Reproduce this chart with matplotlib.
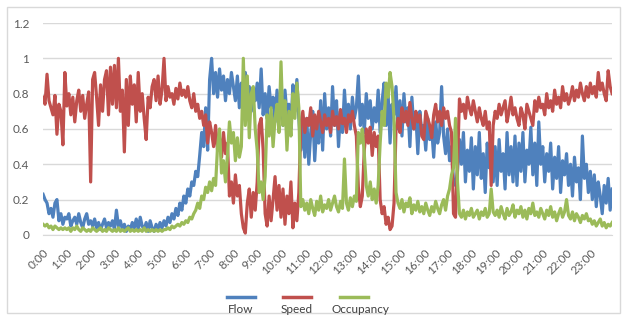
import matplotlib
matplotlib.use("Agg")
import matplotlib.pyplot as plt
from matplotlib.lines import Line2D
from matplotlib.patches import Rectangle

plt.rcParams['font.family'] = ['Lato', 'DejaVu Sans']

# 5-minute samples over one day (12 per hour), normalised to [0, 1]
hours = [f"{h}:00" for h in range(24)]

flow = [
    0.23, 0.20, 0.18, 0.12, 0.15, 0.10, 0.18, 0.20, 0.08, 0.12, 0.06, 0.10,
    0.09, 0.12, 0.05, 0.08, 0.10, 0.06, 0.12, 0.07, 0.04, 0.09, 0.12, 0.06,
    0.08, 0.05, 0.09, 0.04, 0.07, 0.03, 0.06, 0.09, 0.04, 0.07, 0.05, 0.08,
    0.03, 0.14, 0.05, 0.08, 0.03, 0.06, 0.02, 0.05, 0.03, 0.07, 0.04, 0.09,
    0.03, 0.10, 0.05, 0.03, 0.07, 0.02, 0.08, 0.04, 0.02, 0.06, 0.03, 0.07,
    0.04, 0.08, 0.05, 0.10, 0.07, 0.12, 0.09, 0.15, 0.11, 0.18, 0.14, 0.22,
    0.18, 0.26, 0.22, 0.30, 0.28, 0.36, 0.33, 0.45, 0.58, 0.50, 0.72, 0.48,
    0.88, 1.00, 0.80, 0.92, 0.78, 0.94, 0.82, 0.90, 0.76, 0.88, 0.80, 0.92,
    0.84, 0.76, 0.90, 0.72, 0.86, 0.78, 0.92, 0.74, 0.84, 0.70, 0.82, 0.76,
    0.86, 0.72, 0.94, 0.68, 0.80, 0.66, 0.84, 0.72, 0.78, 0.64, 0.82, 0.70,
    0.76, 0.62, 0.82, 0.68, 0.74, 0.60, 0.85, 0.70, 0.88, 0.66, 0.48, 0.62,
    0.44, 0.66, 0.40, 0.58, 0.70, 0.42, 0.62, 0.52, 0.76, 0.48, 0.80, 0.60,
    0.72, 0.56, 0.84, 0.62, 0.76, 0.50, 0.70, 0.58, 0.82, 0.64, 0.74, 0.60,
    0.78, 0.66, 0.72, 0.90, 0.62, 0.74, 0.58, 0.80, 0.66, 0.76, 0.60, 0.72,
    0.64, 0.82, 0.58, 0.76, 0.86, 0.62, 0.80, 0.52, 0.74, 0.68, 0.84, 0.60,
    0.76, 0.56, 0.80, 0.64, 0.72, 0.50, 0.78, 0.60, 0.68, 0.46, 0.70, 0.58,
    0.62, 0.48, 0.66, 0.54, 0.60, 0.44, 0.64, 0.52, 0.58, 0.84, 0.56, 0.46,
    0.60, 0.42, 0.50, 0.30, 0.28, 0.36, 0.54, 0.40, 0.58, 0.30, 0.48, 0.36,
    0.55, 0.26, 0.50, 0.34, 0.58, 0.32, 0.46, 0.24, 0.52, 0.38, 0.56, 0.30,
    0.50, 0.28, 0.54, 0.36, 0.46, 0.26, 0.58, 0.34, 0.50, 0.30, 0.56, 0.28,
    0.52, 0.36, 0.58, 0.30, 0.48, 0.40, 0.61, 0.34, 0.52, 0.28, 0.64, 0.40,
    0.50, 0.30, 0.46, 0.36, 0.52, 0.26, 0.44, 0.32, 0.50, 0.24, 0.42, 0.34,
    0.46, 0.28, 0.40, 0.22, 0.44, 0.30, 0.38, 0.20, 0.56, 0.32, 0.40, 0.24,
    0.36, 0.20, 0.34, 0.16, 0.30, 0.22, 0.12, 0.28, 0.18, 0.32, 0.14, 0.26,
]

speed = [
    0.78, 0.74, 0.91, 0.76, 0.72, 0.68, 0.79, 0.57, 0.74, 0.70, 0.51, 0.92,
    0.73, 0.80, 0.68, 0.78, 0.64, 0.76, 0.82, 0.70, 0.79, 0.66, 0.74, 0.81,
    0.30, 0.88, 0.92, 0.78, 0.62, 0.85, 0.70, 0.88, 0.93, 0.68, 0.95, 0.74,
    0.96, 0.72, 1.00, 0.70, 0.82, 0.47, 0.88, 0.62, 0.90, 0.74, 0.85, 0.64,
    0.92, 0.70, 0.80, 0.66, 0.54, 0.78, 0.72, 0.84, 0.88, 0.76, 0.90, 0.74,
    0.82, 1.00, 0.76, 0.84, 0.78, 0.80, 0.74, 0.83, 0.77, 0.86, 0.79, 0.82,
    0.78, 0.84, 0.76, 0.72, 0.80, 0.70, 0.74, 0.66, 0.70, 0.62, 0.68, 0.52,
    0.64, 0.58, 0.50, 0.62, 0.48, 0.55, 0.44, 0.58, 0.46, 0.52, 0.22, 0.30,
    0.18, 0.34, 0.22, 0.28, 0.12, 0.04, 0.01, 0.18, 0.26, 0.10, 0.24, 0.14,
    0.30, 0.62, 0.66, 0.48, 0.12, 0.05, 0.22, 0.08, 0.20, 0.33, 0.14, 0.28,
    0.10, 0.26, 0.06, 0.22, 0.12, 0.30, 0.04, 0.18, 0.08, 0.24, 0.62, 0.70,
    0.58, 0.66, 0.62, 0.72, 0.56, 0.68, 0.60, 0.70, 0.64, 0.58, 0.68, 0.62,
    0.66, 0.58, 0.70, 0.62, 0.67, 0.60, 0.71, 0.63, 0.66, 0.58, 0.68, 0.64,
    0.70, 0.62, 0.56, 0.27, 0.16, 0.22, 0.48, 0.60, 0.52, 0.61, 0.45, 0.58,
    0.50, 0.56, 0.20, 0.12, 0.16, 0.06, 0.10, 0.03, 0.05, 0.18, 0.60, 0.66,
    0.58, 0.72, 0.64, 0.70, 0.62, 0.75, 0.66, 0.60, 0.70, 0.64, 0.68, 0.56,
    0.54, 0.70, 0.66, 0.62, 0.55, 0.68, 0.74, 0.64, 0.70, 0.62, 0.72, 0.66,
    0.70, 0.62, 0.58, 0.12, 0.10, 0.40, 0.77, 0.70, 0.74, 0.66, 0.78, 0.72,
    0.68, 0.76, 0.70, 0.64, 0.72, 0.66, 0.62, 0.70, 0.60, 0.64, 0.28, 0.62,
    0.70, 0.66, 0.74, 0.68, 0.72, 0.76, 0.64, 0.70, 0.78, 0.68, 0.72, 0.66,
    0.62, 0.72, 0.68, 0.60, 0.74, 0.70, 0.66, 0.62, 0.76, 0.70, 0.78, 0.72,
    0.74, 0.68, 0.80, 0.72, 0.76, 0.70, 0.82, 0.74, 0.78, 0.72, 0.84, 0.76,
    0.80, 0.74, 0.78, 0.84, 0.76, 0.82, 0.78, 0.86, 0.80, 0.76, 0.84, 0.78,
    0.86, 0.80, 0.84, 0.78, 0.92, 0.82, 0.86, 0.80, 0.76, 0.93, 0.84, 0.80,
]

occupancy = [
    0.06, 0.05, 0.06, 0.04, 0.05, 0.03, 0.05, 0.04, 0.03, 0.04, 0.03, 0.04,
    0.03, 0.04, 0.02, 0.04, 0.03, 0.05, 0.03, 0.02, 0.04, 0.03, 0.02, 0.03,
    0.02, 0.04, 0.03, 0.02, 0.03, 0.04, 0.02, 0.03, 0.02, 0.04, 0.03, 0.02,
    0.03, 0.02, 0.04, 0.02, 0.03, 0.02, 0.03, 0.04, 0.02, 0.03, 0.02, 0.03,
    0.02, 0.03, 0.02, 0.04, 0.02, 0.03, 0.02, 0.03, 0.02, 0.03, 0.02, 0.03,
    0.02, 0.03, 0.03, 0.04, 0.03, 0.05, 0.04, 0.05, 0.06, 0.05, 0.07, 0.06,
    0.08, 0.07, 0.10, 0.09, 0.12, 0.14, 0.18, 0.15, 0.22, 0.20, 0.27, 0.24,
    0.30, 0.25, 0.32, 0.28, 0.50, 0.60, 0.35, 0.42, 0.30, 0.45, 0.64, 0.52,
    0.58, 0.42, 0.55, 0.44, 0.50, 1.00, 0.62, 0.90, 0.55, 0.80, 0.84, 0.60,
    0.48, 0.24, 0.30, 0.20, 0.33, 0.68, 0.56, 0.72, 0.50, 0.66, 0.74, 0.58,
    0.98, 0.62, 0.76, 0.48, 0.70, 0.56, 0.80, 0.66, 0.86, 0.72, 0.16, 0.20,
    0.14, 0.18, 0.12, 0.20, 0.15, 0.11, 0.19, 0.14, 0.22, 0.13, 0.17, 0.15,
    0.20, 0.14, 0.18, 0.22, 0.16, 0.13, 0.19, 0.15, 0.43, 0.18, 0.14, 0.21,
    0.16, 0.22, 0.19, 0.58, 0.52, 0.60, 0.46, 0.28, 0.22, 0.30, 0.20, 0.26,
    0.18, 0.28, 0.52, 0.70, 0.62, 0.86, 0.78, 0.92, 0.84, 0.66, 0.24, 0.18,
    0.15, 0.20, 0.13, 0.18, 0.16, 0.21, 0.12, 0.17, 0.14, 0.19, 0.13, 0.16,
    0.12, 0.18, 0.14, 0.11, 0.16, 0.13, 0.19, 0.15, 0.12, 0.17, 0.20, 0.14,
    0.22, 0.26, 0.34, 0.38, 0.66, 0.30, 0.12, 0.10, 0.14, 0.09, 0.13, 0.11,
    0.15, 0.10, 0.12, 0.14, 0.09, 0.13, 0.11, 0.15, 0.10, 0.12, 0.26, 0.13,
    0.11, 0.14, 0.10, 0.16, 0.12, 0.09, 0.15, 0.11, 0.13, 0.17, 0.10, 0.14,
    0.12, 0.16, 0.10, 0.14, 0.09, 0.15, 0.12, 0.18, 0.11, 0.13, 0.10, 0.15,
    0.12, 0.09, 0.14, 0.11, 0.16, 0.10, 0.13, 0.08, 0.12, 0.15, 0.10, 0.13,
    0.20, 0.11, 0.09, 0.13, 0.08, 0.12, 0.10, 0.07, 0.11, 0.09, 0.12, 0.08,
    0.09, 0.06, 0.08, 0.05, 0.07, 0.09, 0.05, 0.07, 0.04, 0.06, 0.05, 0.07,
]

series = [("Flow", flow, "#4F81BD"),
          ("Speed", speed, "#C0504D"),
          ("Occupancy", occupancy, "#9BBB59")]

fig = plt.figure(figsize=(6.24, 3.2), dpi=100)
ax = fig.add_axes([0.069, 0.266, 0.912, 0.662])

x = list(range(len(flow)))
for name, vals, col in series:
    ax.plot(x, vals, color=col, lw=2.3, solid_joinstyle="round")

ax.set_xlim(0, len(flow) - 1)
ax.set_ylim(0, 1.2)
ax.set_yticks([0, 0.2, 0.4, 0.6, 0.8, 1.0, 1.2])
ax.set_yticklabels(["0", "0.2", "0.4", "0.6", "0.8", "1", "1.2"])
ax.set_xticks(list(range(0, len(flow), 12)))
ax.set_xticklabels(hours, rotation=45, ha="right", rotation_mode="anchor")
ax.tick_params(axis="both", length=0, labelsize=8.5, colors="#595959")
ax.tick_params(axis="x", pad=9)
ax.tick_params(axis="y", pad=10)
ax.grid(axis="y", color="#d9d9d9", lw=1.0)
ax.set_axisbelow(True)
for s in ("top", "right", "left"):
    ax.spines[s].set_visible(False)
ax.spines["bottom"].set_color("#d9d9d9")

# legend: sample line above each label
legend_items = [(0.386, "Flow"), (0.476, "Speed"), (0.567, "Occupancy")]
for (xc, name), (_, _, col) in zip(legend_items, series):
    fig.add_artist(Line2D([xc - 0.022, xc + 0.022], [0.072, 0.072],
                          color=col, lw=2.5, transform=fig.transFigure))
for xc, name in [(0.386, "Flow"), (0.476, "Speed"), (0.577, "Occupancy")]:
    fig.text(xc, 0.032, name, ha="center", va="center", fontsize=8.5,
             color="#404040")

# chart frame
fig.add_artist(Rectangle((0.011, 0.022), 0.983, 0.956, fill=False,
                         edgecolor="#d9d9d9", lw=1.0,
                         transform=fig.transFigure))

fig.savefig("out.png", dpi=100)
